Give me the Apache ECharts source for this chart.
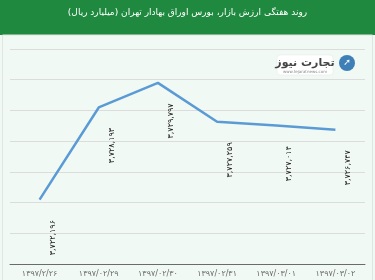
<!DOCTYPE html>
<html><head><meta charset="utf-8">
<script src="https://cdn.jsdelivr.net/npm/echarts@6/dist/echarts.min.js"></script>
<style>html,body{margin:0;padding:0;background:#fff}#c{width:375px;height:280px}</style>
</head><body><div id="c"></div>
<script>
const titleText = 'روند هفتگی ارزش بازار، بورس اوراق بهادار تهران (میلیارد ریال)';
const categories = ['۱۳۹۷/۲/۲۶','۱۳۹۷/۰۲/۲۹','۱۳۹۷/۰۲/۳۰','۱۳۹۷/۰۲/۳۱','۱۳۹۷/۰۳/۰۱','۱۳۹۷/۰۳/۰۲'];
const values = [3722196, 3728193, 3729797, 3727259, 3727014, 3726747];
const valueLabels = ['۳,۷۲۲,۱۹۶','۳,۷۲۸,۱۹۳','۳,۷۲۹,۷۹۷','۳,۷۲۷,۲۵۹','۳,۷۲۷,۰۱۴','۳,۷۲۶,۷۴۷'];
const yMin = 3718000, yMax = 3732000, yStep = 2000;

const chart = echarts.init(document.getElementById('c'), null, {renderer:'canvas'});
const font = 'DejaVu Sans';
chart.setOption({
  animation:false,
  backgroundColor:'#f1f9f4',
  textStyle:{fontFamily:font},
  graphic:[
    {type:'rect', z:-1, shape:{x:0,y:0,width:375,height:35}, style:{fill:'#1f8a3f'}},
    {type:'rect', z:-1, shape:{x:2.5,y:35,width:370,height:250}, style:{fill:'none',stroke:'#dfe6e2',lineWidth:1}},
    {type:'rect', shape:{x:277,y:55,width:56,height:20,r:3}, style:{fill:'#ffffff',stroke:'#e4e4e4',lineWidth:0.5}},
    {type:'text', x:305, y:63, style:{text:'تجارت نیوز', fill:'#444', font:'bold 11px DejaVu Sans', align:'center', verticalAlign:'middle'}},
    {type:'text', x:305, y:71.5, style:{text:'www.tejaratnews.com', fill:'#888', font:'4px DejaVu Sans', align:'center', verticalAlign:'middle'}},
    {type:'circle', shape:{cx:347,cy:63,r:8}, style:{fill:'#3f7fb8'}},
    {type:'text', x:347, y:63, style:{text:'➚', fill:'#fff', font:'bold 9px DejaVu Sans', align:'center', verticalAlign:'middle'}}
  ],
  title:{text:titleText, left:'center', top:3, textStyle:{color:'#ffffff', fontSize:9, fontWeight:'normal', fontFamily:font}},
  grid:{left:10, right:10, top:49, bottom:16, containLabel:false},
  xAxis:{type:'category', data:categories, boundaryGap:true,
    axisLine:{lineStyle:{color:'#6b6b6b', width:1}}, axisTick:{show:false},
    axisLabel:{color:'#6b6b6b', fontSize:8, margin:6, interval:0}},
  yAxis:{type:'value', min:yMin, max:yMax, interval:yStep, axisLabel:{show:false},
    axisLine:{show:false}, axisTick:{show:false},
    splitLine:{lineStyle:{color:'#dcdcdc', width:1}}},
  series:[{type:'line', data:values, showSymbol:true, symbol:'circle', symbolSize:1,
    itemStyle:{color:'rgba(0,0,0,0)'},
    lineStyle:{color:'#5b9bd5', width:2.5},
    label:{show:true, position:'bottom', distance:4, rotate:90, align:'right', verticalAlign:'middle',
      offset:[-16,13], color:'#222', fontSize:8, fontFamily:font,
      formatter:p=>valueLabels[p.dataIndex]}
  }]
});
</script></body></html>
